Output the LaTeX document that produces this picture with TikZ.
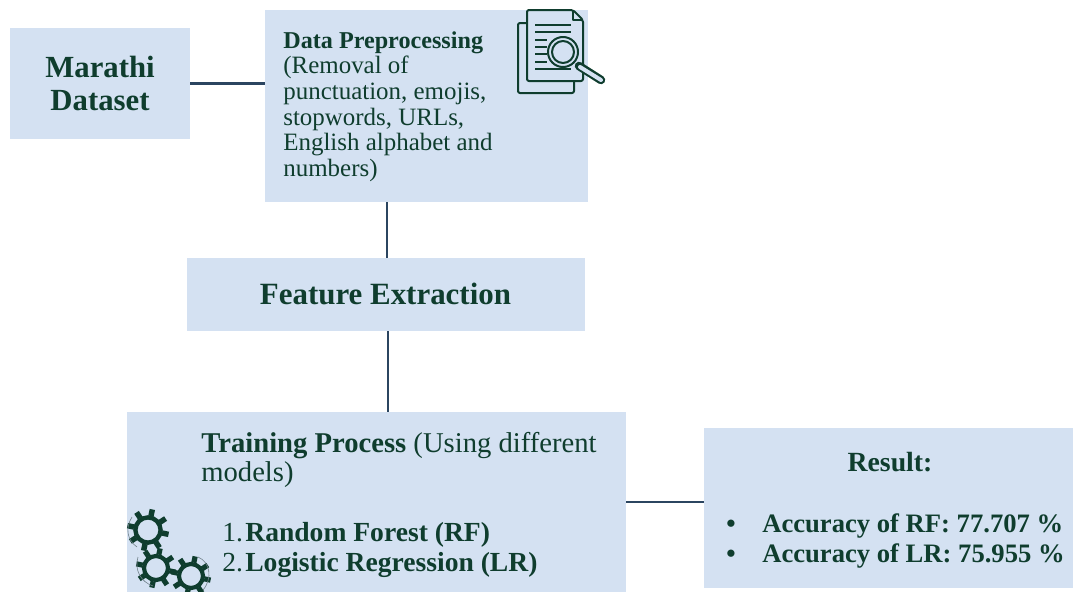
\documentclass[tikz,border=0pt]{standalone}
\usepackage{fontspec}
\setmainfont{Liberation Serif}
\usetikzlibrary{positioning}
\definecolor{boxblue}{HTML}{D4E1F2}
\definecolor{inkgreen}{HTML}{0F3D2E}
\definecolor{linkblue}{HTML}{2B4560}
\definecolor{arcgrey}{HTML}{6F8088}

\tikzset{
    gear/.pic={
        \draw[inkgreen, line width=#1*0.0042cm] (0,0) circle (#1*0.6);
        \foreach \a in {0,45,...,315}
            \draw[inkgreen, line width=#1*0.0052cm] (\a+12:#1*0.68) -- (\a+12:#1);
    }
}

\begin{document}
\begin{tikzpicture}[
    x=0.02cm, y=-0.02cm,
    box/.style={rectangle, fill=boxblue, inner sep=0pt},
    boxtext/.style={anchor=west, inner sep=0pt, align=left, text=inkgreen},
    link/.style={draw=linkblue, line width=0.05cm},
    icon/.style={draw=inkgreen, line width=0.04cm, line join=round},
    arc/.style={draw=arcgrey, line width=0.012cm}
]
\useasboundingbox (0,0) rectangle (1073,592);

\node[box, minimum width=3.6cm, minimum height=2.22cm, text=inkgreen, align=center,
      font=\fontsize{17.5}{19}\selectfont\bfseries] (marathi) at (100,83.5) {Marathi\\Dataset};
\node[box, minimum width=6.46cm, minimum height=3.84cm] (prep) at (426.5,106) {};
\node[box, minimum width=7.96cm, minimum height=1.46cm] (feature) at (386,294.5) {};
\node[box, minimum width=9.98cm, minimum height=3.6cm] (train) at (376.5,502) {};
\node[box, minimum width=7.38cm, minimum height=3.2cm] (result) at (888.5,508) {};

\node[boxtext, font=\fontsize{14.2}{14.6}\selectfont] (preptext) at (283,106.5)
    {{\fontsize{13.75}{14.6}\selectfont\textbf{Data Preprocessing}}\\(Removal of\\punctuation, emojis,\\stopwords, URLs,\\English alphabet and\\numbers)};
\node[inner sep=0pt, text=inkgreen, font=\fontsize{17.6}{20}\selectfont\bfseries] (featuretext) at (385.5,293.5) {Feature Extraction};
\node[boxtext, font=\fontsize{16.3}{17}\selectfont] (traintext) at (201,460)
    {\textbf{Training Process} (Using different\\models)};
\node[boxtext, font=\fontsize{15.7}{17}\selectfont] (trainlist) at (222,550)
    {\makebox[0.46cm][l]{1.}\textbf{Random Forest (RF)}\\\makebox[0.46cm][l]{2.}\textbf{Logistic Regression (LR)}};
\node[inner sep=0pt, text=inkgreen, font=\fontsize{15.8}{17}\selectfont\bfseries] (resulttitle) at (890,462.5) {Result:};
\node[boxtext, font=\fontsize{15.15}{17}\selectfont\bfseries] (resultlist) at (726,541)
    {\makebox[0.72cm][l]{\textbullet}Accuracy of RF: 77.707 \%\\\makebox[0.72cm][l]{\textbullet}Accuracy of LR: 75.955 \%};

\draw[link] (marathi.east) -- (marathi.east -| prep.west);
\draw[link] ([xshift=0.02cm]feature.north) -- ([xshift=0.02cm]feature.north |- prep.south);
\draw[link] ([xshift=0.04cm]feature.south) -- ([xshift=0.04cm]feature.south |- train.north);
\draw[link] (train.east) -- (train.east -| result.west);

% document icon
\draw[icon, fill=boxblue, rounded corners=0.04cm] (527,23) -- (518,23) -- (518,93) -- (574,93) -- (574,81);
\draw[icon, fill=boxblue, rounded corners=0.04cm] (527,10) -- (573,10) -- (583,20) -- (583,81) -- (527,81) -- cycle;
\draw[icon] (573,10) -- (573,20) -- (583,20);
\foreach \y in {25,32,69}
    \draw[icon] (535,\y) -- (571,\y);
\foreach \y in {40,47,54,62}
    \draw[icon] (535,\y) -- (547,\y);
\draw[draw=inkgreen, line cap=round, line width=0.17cm] (579,66) -- (601,80);
\draw[draw=boxblue, line cap=round, line width=0.08cm] (580,67) -- (601,80);
\draw[icon, fill=boxblue] (563,52) circle (15);
\draw[icon] (563,52) circle (11);

% gears
\pic at (148,530) {gear=21};
\pic at (156,568) {gear=20};
\pic at (191,576) {gear=20};
\draw[arc] (132,517) .. controls (125,528) and (127,540) .. (137,547);
\draw[arc] (138,557) .. controls (134,570) and (141,582) .. (153,586);
\draw[arc] (198,557) .. controls (210,562) and (213,578) .. (203,590);

\end{tikzpicture}
\end{document}
